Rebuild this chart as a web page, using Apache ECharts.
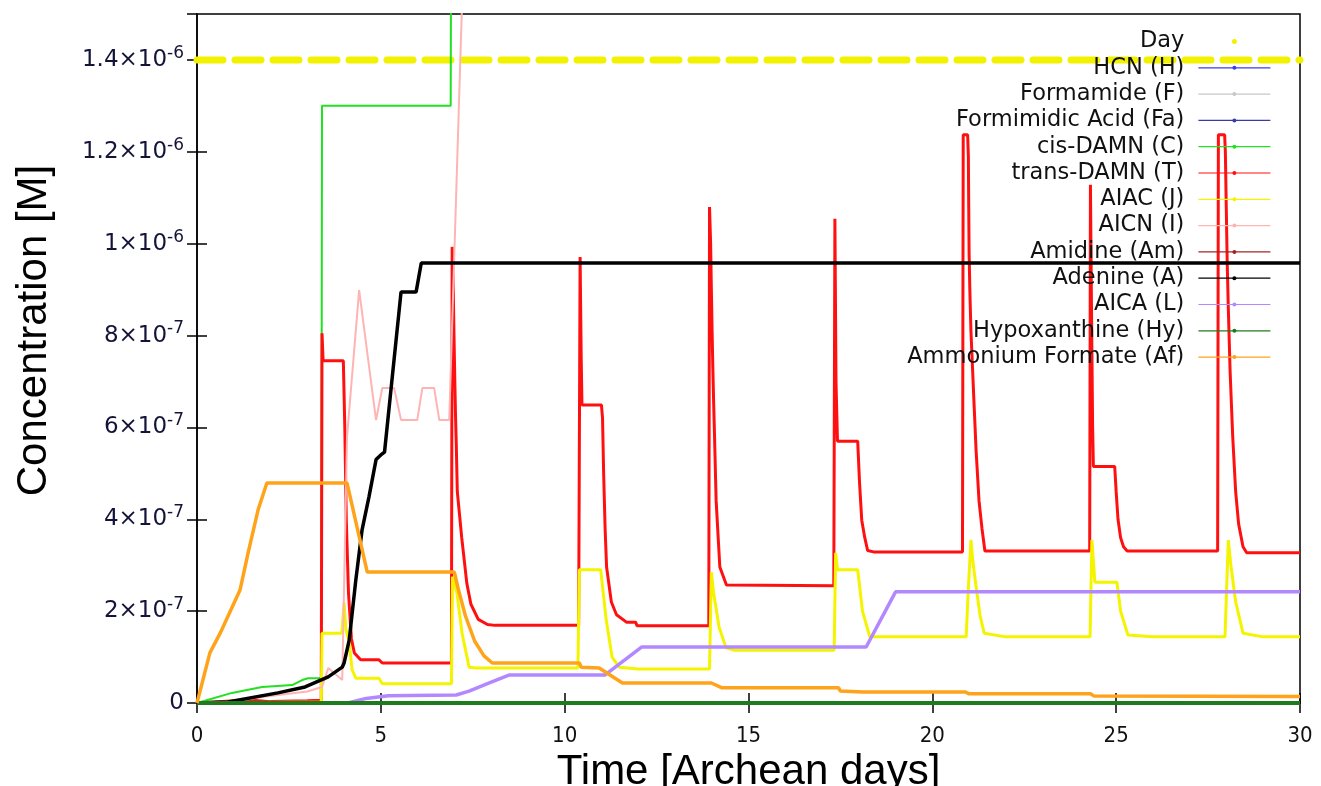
<!DOCTYPE html>
<html><head><meta charset="utf-8">
<script src="https://cdn.jsdelivr.net/npm/echarts@6/dist/echarts.min.js"></script>
<style>html,body{margin:0;padding:0;background:#fff}#c{width:1321px;height:786px}</style>
</head><body><div id="c"></div>
<script>
// ---- data: [time (Archean days), concentration (M)] ----
const dayLevel = [[0,1.4e-6],[30,1.4e-6]];
const hcn = [];
const formamide = [];
const formimidicAcid = [];
const cisDAMN = [[0,0],[0.95,2.2e-8],[1.77,3.5e-8],[2.59,3.9e-8],[2.86,5.0e-8],[3.02,5.4e-8],[3.38,5.4e-8],
  [3.40,1.30e-6],[6.90,1.30e-6],[6.92,2.0e-6],[30,2.0e-6]];
const transDAMN = [[0,0],[0.8,4e-9],[1.5,6e-9],[2.0,3e-9],[3.0,5e-9],[3.38,6e-9],
  [3.40,8.05e-7],[3.43,7.45e-7],[3.98,7.45e-7],[4.02,6.0e-7],[4.06,4.0e-7],[4.12,2.4e-7],[4.2,1.4e-7],[4.28,1.09e-7],[4.45,9.4e-8],[4.95,9.4e-8],[5.04,8.7e-8],[6.92,8.7e-8],
  [6.94,9.93e-7],[6.97,9.0e-7],[6.99,8.0e-7],[7.01,7.1e-7],[7.03,6.3e-7],[7.05,5.7e-7],[7.08,4.6e-7],[7.2,3.6e-7],[7.34,2.6e-7],[7.45,2.15e-7],[7.65,1.82e-7],[7.9,1.71e-7],[8.1,1.69e-7],[10.38,1.69e-7],
  [10.42,9.71e-7],[10.45,7.5e-7],[10.47,6.49e-7],[11.0,6.49e-7],[11.03,6.2e-7],[11.06,5.0e-7],[11.1,3.8e-7],[11.14,2.96e-7],[11.27,2.2e-7],[11.41,1.92e-7],[11.68,1.76e-7],[11.93,1.76e-7],[11.97,1.68e-7],[13.92,1.68e-7],
  [13.94,1.08e-6],[13.97,1.0e-6],[13.99,9.0e-7],[14.01,8.1e-7],[14.03,7.3e-7],[14.05,6.6e-7],[14.07,6.0e-7],[14.12,4.4e-7],[14.22,2.96e-7],[14.4,2.57e-7],[17.32,2.55e-7],
  [17.35,1.054e-6],[17.38,7.0e-7],[17.42,5.7e-7],[17.97,5.7e-7],[18.02,4.8e-7],[18.08,3.98e-7],[18.16,3.61e-7],[18.24,3.32e-7],[18.4,3.29e-7],[20.82,3.29e-7],
  [20.84,1.237e-6],[20.96,1.237e-6],[20.98,1.19e-6],[20.99,1.08e-6],[21.0,9.8e-7],[21.02,9.0e-7],[21.05,8.1e-7],[21.13,6.6e-7],[21.19,5.5e-7],[21.27,4.4e-7],[21.35,3.8e-7],[21.43,3.31e-7],[24.28,3.31e-7],
  [24.30,1.128e-6],[24.33,8.5e-7],[24.36,6.0e-7],[24.38,5.15e-7],[24.96,5.15e-7],[25.0,4.6e-7],[25.05,4.0e-7],[25.12,3.6e-7],[25.2,3.4e-7],[25.3,3.31e-7],[27.76,3.31e-7],
  [27.78,1.237e-6],[27.95,1.237e-6],[27.97,1.2e-6],[27.99,1.1e-6],[28.02,9.6e-7],[28.05,8.6e-7],[28.1,7.2e-7],[28.17,5.8e-7],[28.25,4.6e-7],[28.33,3.9e-7],[28.45,3.4e-7],[28.55,3.27e-7],[30,3.27e-7]];
const aiac = [[0,0],[3.38,2e-9],[3.40,1.52e-7],[3.94,1.52e-7],[4.0,2.18e-7],[4.05,1.6e-7],[4.13,1.37e-7],[4.22,7.2e-8],[4.32,5.4e-8],[4.95,5.4e-8],[5.04,4.2e-8],[6.92,4.2e-8],
  [6.95,2.75e-7],[7.07,2.39e-7],[7.21,1.52e-7],[7.4,7.8e-8],[7.6,7.6e-8],[10.36,7.6e-8],
  [10.40,2.9e-7],[10.98,2.9e-7],[11.13,1.81e-7],[11.29,1.0e-7],[11.48,7.8e-8],[12.0,7.4e-8],[13.94,7.4e-8],
  [13.99,2.85e-7],[14.05,2.4e-7],[14.2,1.65e-7],[14.39,1.2e-7],[14.6,1.15e-7],[17.33,1.15e-7],
  [17.37,3.27e-7],[17.42,2.9e-7],[17.97,2.9e-7],[18.1,2.0e-7],[18.3,1.44e-7],[20.92,1.44e-7],
  [20.98,2.5e-7],[21.05,3.55e-7],[21.1,3.1e-7],[21.19,2.53e-7],[21.3,1.9e-7],[21.41,1.52e-7],[22.0,1.44e-7],[24.29,1.44e-7],
  [24.34,3.55e-7],[24.42,2.63e-7],[25.02,2.63e-7],[25.12,2.0e-7],[25.32,1.48e-7],[26.0,1.44e-7],[27.96,1.44e-7],
  [28.05,3.55e-7],[28.12,3.0e-7],[28.25,2.2e-7],[28.45,1.52e-7],[29.0,1.44e-7],[30,1.44e-7]];
const aicn = [[0,0],[1.0,3e-9],[1.77,1.3e-8],[3.0,2.5e-8],[3.4,3.5e-8],[3.57,7.6e-8],[3.95,5.0e-8],
  [4.08,5.79e-7],[4.41,8.99e-7],[4.87,6.16e-7],[5.04,6.86e-7],[5.36,6.86e-7],[5.55,6.16e-7],[5.99,6.16e-7],
  [6.13,6.86e-7],[6.45,6.86e-7],[6.59,6.16e-7],[6.86,6.16e-7],[7.2,1.5e-6],[7.4,2.5e-6],[30,2.5e-6]];
const amidine = [[0,0],[30,0]];
const adenine = [[0,0],[0.84,2e-9],[2.2,2.2e-8],[2.94,3.5e-8],[3.57,5.7e-8],[3.95,7.8e-8],[4.0,8.7e-8],[4.14,1.37e-7],
  [4.32,2.68e-7],[4.49,3.77e-7],[4.68,4.5e-7],[4.87,5.3e-7],[5.0,5.4e-7],[5.1,5.46e-7],[5.55,8.95e-7],[5.96,8.95e-7],[6.1,9.58e-7],[30,9.58e-7]];
const aica = [[0,0],[4.1,0],[4.6,1e-8],[5.2,1.6e-8],[7.05,1.74e-8],[7.4,2.6e-8],[7.9,4.2e-8],[8.5,6.1e-8],[11.1,6.1e-8],
  [12.1,1.22e-7],[18.2,1.22e-7],[19.0,2.42e-7],[30,2.42e-7]];
const hypoxanthine = [[0,0],[30,0]];
const ammoniumFormate = [[0,0],[0.35,1.09e-7],[0.63,1.52e-7],[1.17,2.46e-7],[1.39,3.27e-7],[1.66,4.2e-7],[1.9,4.79e-7],[4.08,4.79e-7],
  [4.63,2.85e-7],[7.0,2.85e-7],[7.1,2.5e-7],[7.3,1.9e-7],[7.55,1.35e-7],[7.8,1.03e-7],[8.03,8.7e-8],[10.4,8.7e-8],[10.45,7.8e-8],
  [10.94,7.6e-8],[11.57,4.35e-8],[13.99,4.35e-8],[14.28,3.3e-8],[17.45,3.3e-8],[17.5,2.6e-8],[18.1,2.4e-8],[20.9,2.4e-8],[21.0,2.0e-8],
  [24.3,2.0e-8],[24.4,1.5e-8],[30,1.4e-8]];

const seriesNames = ['Day','HCN (H)','Formamide (F)','Formimidic Acid (Fa)','cis-DAMN (C)','trans-DAMN (T)','AIAC (J)','AICN (I)',
  'Amidine (Am)','Adenine (A)','AICA (L)','Hypoxanthine (Hy)','Ammonium Formate (Af)'];
const seriesData = [dayLevel,hcn,formamide,formimidicAcid,cisDAMN,transDAMN,aiac,aicn,amidine,adenine,aica,hypoxanthine,ammoniumFormate];
const seriesColors = ['#f2f200','#3c3cf0','#c8c8c8','#3a3aa8','#22e022','#ff1010','#f4f400','#ffb4b4','#a02424','#000000','#b388ff','#1f7a1f','#ffa31a'];
const seriesWidths = [7,1.5,1.5,1.5,2,3,3,2,2,3.5,3.5,4,3.5];

const xTickStep = 5;
const yTickStep = 2e-7;

function yLabel(v) {
  if (v === 0) return '{m|0}';
  const e = Math.floor(Math.log10(v) + 1e-9);
  const m = Math.round(v / Math.pow(10, e) * 10) / 10;
  return '{m|' + m + '×10}{s|' + e + '}';
}

const chart = echarts.init(document.getElementById('c'), null, {renderer: 'canvas'});
const series = seriesNames.map((n, i) => {
  const s = {
    type: 'line', name: n, data: seriesData[i], showSymbol: false, symbol: 'circle',
    lineStyle: {color: seriesColors[i], width: seriesWidths[i]},
    itemStyle: {color: seriesColors[i]},
    animation: false, clip: true, z: 2 + i * 0.01
  };
  if (i === 0) s.lineStyle = {color: seriesColors[0], width: 7, type: [26, 12], cap: 'round'};
  return s;
});

const axisLabelFont = "'Liberation Sans Narrow','DejaVu Sans Condensed','Liberation Sans',sans-serif";
chart.setOption({
  backgroundColor: '#fff',
  animation: false,
  grid: {left: 197, right: 21, top: 14, bottom: 83, show: true, borderColor: '#000', borderWidth: 1.5,
    backgroundColor: 'transparent', containLabel: false, outerBoundsMode: 'none'},
  legend: {
    orient: 'vertical', right: 45, top: 25, align: 'right',
    itemWidth: 72, itemHeight: 5, itemGap: 3.3,
    data: seriesNames.map((n, i) => i === 0 ? {name: n, icon: 'circle'} : {name: n}),
    lineStyle: {width: 1.2},
    textStyle: {fontFamily: "'DejaVu Sans',sans-serif", fontSize: 22.5, lineHeight: 22, color: '#111', padding: [0, 9, 0, 0]},
    selectedMode: false
  },
  xAxis: [{
    type: 'value', min: 0, max: 30, interval: xTickStep, position: 'bottom',
    name: 'Time [Archean days]', nameLocation: 'middle', nameGap: 44,
    nameTextStyle: {fontFamily: "'Liberation Sans',sans-serif", fontSize: 42, color: '#000'},
    axisLine: {show: true, lineStyle: {color: '#000', width: 1.5}},
    axisTick: {show: true, inside: true, length: 10, lineStyle: {color: '#000', width: 1.5}},
    axisLabel: {margin: 22, fontFamily: axisLabelFont, fontSize: 22, color: '#111'},
    splitLine: {show: false}
  }, {
    type: 'value', min: 0, max: 30, interval: xTickStep, position: 'top',
    axisLine: {show: false}, axisLabel: {show: false},
    axisTick: {show: true, inside: true, length: 10, lineStyle: {color: '#000', width: 1.5}},
    splitLine: {show: false}
  }],
  yAxis: [{
    type: 'value', min: 0, max: 1.5e-6, interval: yTickStep, position: 'left',
    name: 'Concentration [M]', nameLocation: 'middle', nameGap: 142,
    nameTextStyle: {fontFamily: "'Liberation Sans',sans-serif", fontSize: 42, color: '#000', padding: [0, 0, 0, 56]},
    axisLine: {show: true, lineStyle: {color: '#000', width: 1.5}},
    axisTick: {show: true, inside: true, length: 10, lineStyle: {color: '#000', width: 1.5}},
    axisLabel: {
      margin: 13, showMaxLabel: false, formatter: yLabel,
      rich: {
        m: {fontFamily: "'DejaVu Sans',sans-serif", fontSize: 23, color: '#14143a', lineHeight: 30},
        s: {fontFamily: "'DejaVu Sans',sans-serif", fontSize: 17, color: '#14143a', verticalAlign: 'top', lineHeight: 17}
      }
    },
    splitLine: {show: false}
  }, {
    type: 'value', min: 0, max: 1.5e-6, interval: yTickStep, position: 'right',
    axisLine: {show: false}, axisLabel: {show: false},
    axisTick: {show: true, inside: true, length: 10, lineStyle: {color: '#000', width: 1.5}},
    splitLine: {show: false}
  }],
  series: series
});
</script>
</body></html>
